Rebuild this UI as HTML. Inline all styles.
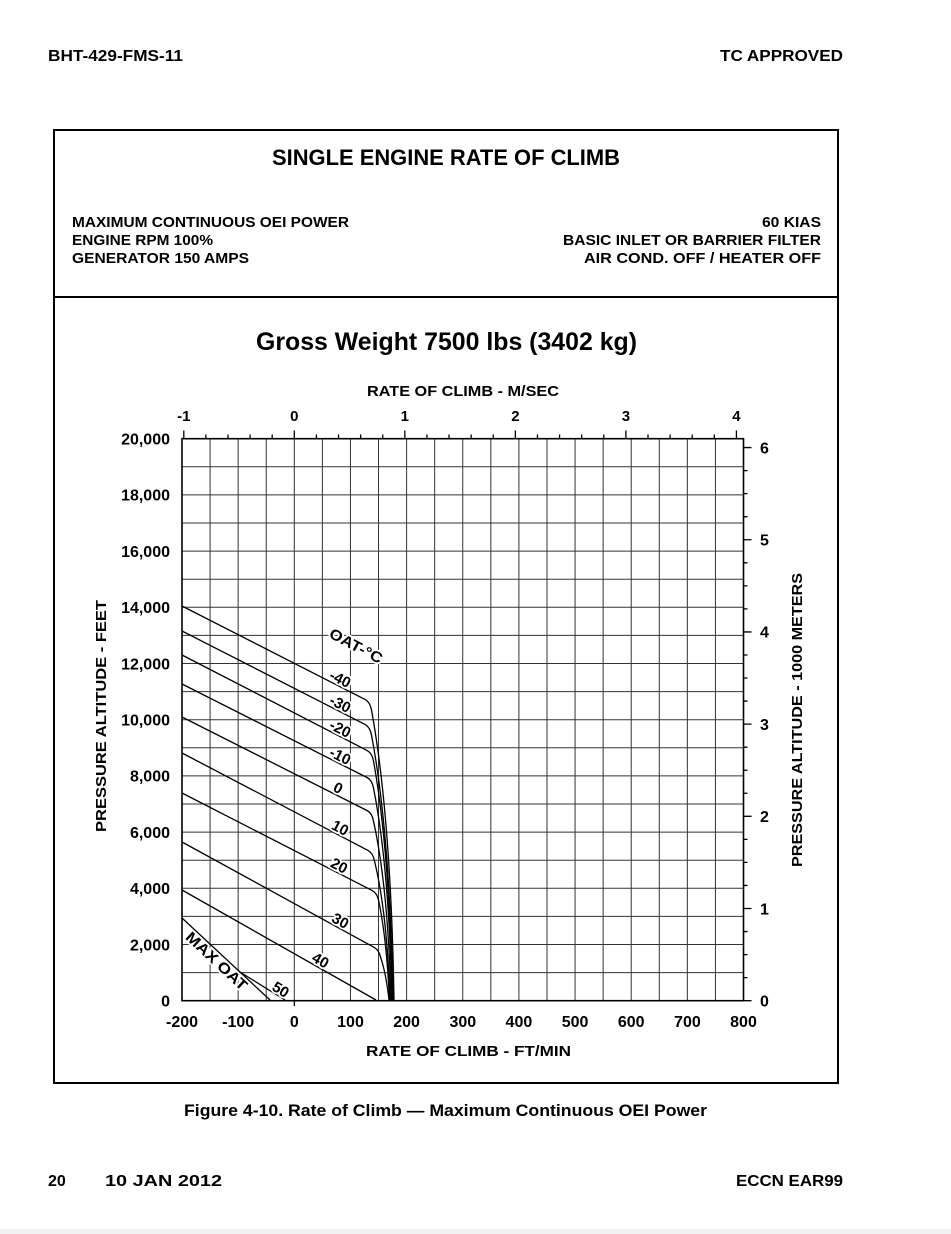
<!DOCTYPE html>
<html>
<head>
<meta charset="utf-8">
<style>
html,body{margin:0;padding:0;background:#fff;}
svg{display:block;}
text{font-family:"Liberation Sans",Arial,sans-serif;font-weight:bold;fill:#000;}
.lbl{font-size:15px;stroke:#fff;stroke-width:3.5px;paint-order:stroke;stroke-linejoin:round;}
</style>
</head>
<body>
<svg width="951" height="1234" viewBox="0 0 951 1234" xmlns="http://www.w3.org/2000/svg">
<rect x="0" y="0" width="951" height="1234" fill="#fff"/>
<rect x="0" y="1229" width="951" height="5" fill="#f1f1f1"/>

<!-- page header -->
<text x="48" y="61" font-size="16" textLength="135" lengthAdjust="spacingAndGlyphs">BHT-429-FMS-11</text>
<text x="843" y="61" font-size="16" text-anchor="end" textLength="123" lengthAdjust="spacingAndGlyphs">TC APPROVED</text>

<!-- outer box -->
<rect x="54" y="130" width="784" height="953" fill="none" stroke="#000" stroke-width="2"/>
<line x1="54" y1="297" x2="838" y2="297" stroke="#000" stroke-width="2"/>

<text x="272" y="165" font-size="22" textLength="348" lengthAdjust="spacingAndGlyphs">SINGLE ENGINE RATE OF CLIMB</text>

<text x="72" y="227" font-size="15" textLength="277" lengthAdjust="spacingAndGlyphs">MAXIMUM CONTINUOUS OEI POWER</text>
<text x="72" y="245" font-size="15" textLength="141" lengthAdjust="spacingAndGlyphs">ENGINE RPM 100%</text>
<text x="72" y="263" font-size="15" textLength="177" lengthAdjust="spacingAndGlyphs">GENERATOR 150 AMPS</text>

<text x="821" y="227" font-size="15" text-anchor="end" textLength="59" lengthAdjust="spacingAndGlyphs">60 KIAS</text>
<text x="821" y="245" font-size="15" text-anchor="end" textLength="258" lengthAdjust="spacingAndGlyphs">BASIC INLET OR BARRIER FILTER</text>
<text x="821" y="263" font-size="15" text-anchor="end" textLength="237" lengthAdjust="spacingAndGlyphs">AIR COND. OFF  /  HEATER OFF</text>

<text x="256" y="350" font-size="25" textLength="381" lengthAdjust="spacingAndGlyphs">Gross Weight 7500 lbs (3402 kg)</text>

<text x="367" y="396" font-size="15" textLength="192" lengthAdjust="spacingAndGlyphs">RATE OF CLIMB  -  M/SEC</text>

<!-- top tick labels (m/sec) -->
<g font-size="15" text-anchor="middle">
<text x="183.8" y="421">-1</text>
<text x="294.3" y="421">0</text>
<text x="404.8" y="421">1</text>
<text x="515.4" y="421">2</text>
<text x="625.9" y="421">3</text>
<text x="736.4" y="421">4</text>
</g>

<!-- grid -->
<path fill="none" stroke="#333" stroke-width="1" d="
M210.08 438.7V1000.7 M238.15 438.7V1000.7 M266.23 438.7V1000.7 M294.3 438.7V1000.7 M322.38 438.7V1000.7
M350.45 438.7V1000.7 M378.53 438.7V1000.7 M406.6 438.7V1000.7 M434.68 438.7V1000.7 M462.75 438.7V1000.7
M490.83 438.7V1000.7 M518.9 438.7V1000.7 M546.98 438.7V1000.7 M575.05 438.7V1000.7 M603.13 438.7V1000.7
M631.2 438.7V1000.7 M659.28 438.7V1000.7 M687.35 438.7V1000.7 M715.43 438.7V1000.7
M182 972.6H743.5 M182 944.5H743.5 M182 916.4H743.5 M182 888.3H743.5 M182 860.2H743.5
M182 832.1H743.5 M182 804H743.5 M182 775.9H743.5 M182 747.8H743.5 M182 719.7H743.5
M182 691.6H743.5 M182 663.5H743.5 M182 635.4H743.5 M182 607.3H743.5 M182 579.2H743.5
M182 551.1H743.5 M182 523H743.5 M182 494.9H743.5 M182 466.8H743.5"/>

<!-- plot border -->
<rect x="182" y="438.7" width="561.5" height="562" fill="none" stroke="#000" stroke-width="1.6"/>

<!-- top ticks -->
<path fill="none" stroke="#000" stroke-width="1.3" d="
M183.8 438.7V430.5 M294.3 438.7V430.5 M404.83 438.7V430.5 M515.36 438.7V430.5 M625.89 438.7V430.5 M736.42 438.7V430.5
M205.88 438.7V434.5 M227.98 438.7V434.5 M250.09 438.7V434.5 M272.19 438.7V434.5
M316.41 438.7V434.5 M338.51 438.7V434.5 M360.62 438.7V434.5 M382.72 438.7V434.5
M426.94 438.7V434.5 M449.04 438.7V434.5 M471.15 438.7V434.5 M493.25 438.7V434.5
M537.47 438.7V434.5 M559.57 438.7V434.5 M581.68 438.7V434.5 M603.78 438.7V434.5
M648 438.7V434.5 M670.1 438.7V434.5 M692.21 438.7V434.5 M714.31 438.7V434.5"/>

<!-- right ticks -->
<path fill="none" stroke="#000" stroke-width="1.3" d="
M743.5 1000.7H751.5 M743.5 908.51H751.5 M743.5 816.32H751.5 M743.5 724.12H751.5 M743.5 631.93H751.5 M743.5 539.74H751.5 M743.5 447.55H751.5
M743.5 977.65H747.5 M743.5 954.6H747.5 M743.5 931.56H747.5
M743.5 885.46H747.5 M743.5 862.41H747.5 M743.5 839.36H747.5
M743.5 793.27H747.5 M743.5 770.22H747.5 M743.5 747.17H747.5
M743.5 701.08H747.5 M743.5 678.03H747.5 M743.5 654.98H747.5
M743.5 608.88H747.5 M743.5 585.84H747.5 M743.5 562.79H747.5
M743.5 516.69H747.5 M743.5 493.64H747.5 M743.5 470.6H747.5
M294.3 1000.7V1006"/>

<!-- left tick labels -->
<g font-size="16" text-anchor="end">
<text x="170" y="444.5">20,000</text>
<text x="170" y="500.7">18,000</text>
<text x="170" y="556.9">16,000</text>
<text x="170" y="613.1">14,000</text>
<text x="170" y="669.3">12,000</text>
<text x="170" y="725.5">10,000</text>
<text x="170" y="781.7">8,000</text>
<text x="170" y="837.9">6,000</text>
<text x="170" y="894.1">4,000</text>
<text x="170" y="950.3">2,000</text>
<text x="170" y="1006.5">0</text>
</g>

<!-- right tick labels -->
<g font-size="16">
<text x="760" y="1006.5">0</text>
<text x="760" y="914.3">1</text>
<text x="760" y="822.1">2</text>
<text x="760" y="729.9">3</text>
<text x="760" y="637.7">4</text>
<text x="760" y="545.5">5</text>
<text x="760" y="453.3">6</text>
</g>

<!-- bottom tick labels -->
<g font-size="16" text-anchor="middle">
<text x="182" y="1027">-200</text>
<text x="238.2" y="1027">-100</text>
<text x="294.3" y="1027">0</text>
<text x="350.5" y="1027">100</text>
<text x="406.6" y="1027">200</text>
<text x="462.8" y="1027">300</text>
<text x="518.9" y="1027">400</text>
<text x="575.1" y="1027">500</text>
<text x="631.2" y="1027">600</text>
<text x="687.4" y="1027">700</text>
<text x="743.5" y="1027">800</text>
</g>

<text x="366" y="1056" font-size="15" textLength="205" lengthAdjust="spacingAndGlyphs">RATE OF CLIMB  -  FT/MIN</text>

<!-- axis titles -->
<text transform="translate(106,716) rotate(-90)" font-size="15" text-anchor="middle" textLength="232" lengthAdjust="spacingAndGlyphs">PRESSURE ALTITUDE  -  FEET</text>
<text transform="translate(802,720) rotate(-90)" font-size="15" text-anchor="middle" textLength="294" lengthAdjust="spacingAndGlyphs">PRESSURE ALTITUDE  -  1000 METERS</text>

<!-- curves -->
<g fill="none" stroke="#000" stroke-width="1.3" stroke-linejoin="round">
<path d="M182 606 L365 699.4 Q370 702 371.5 710 Q391 817.3 394 1000"/>
<path d="M182 631 L365 724.4 Q370 727 371.5 735 Q390 833 393 1000"/>
<path d="M182 655 L367 750.4 Q372 753 373.5 761 Q389.5 849.4 392.5 1000"/>
<path d="M182 684 L367 777.5 Q372 780 373.5 788 Q389 866.4 392 1000"/>
<path d="M182 717 L367 810.5 Q372 813 373.5 821 Q388 887.2 391 1000"/>
<path d="M182 753 L368 850.4 Q373 853 374.5 861 Q387 912.4 390 1000"/>
<path d="M182 793 L372 890.4 Q377 893 378.5 900 Q386.5 937 389.5 1000"/>
<path d="M182 842 L374 947.3 Q379 950 380.5 957 Q386 973 389 1000"/>
<path d="M182 890 L376 1000"/>
<path d="M182 918 L270 1000"/>
<path d="M240 972 L285 1000"/>
</g>

<!-- curve labels -->
<text class="lbl" transform="translate(356,646) rotate(28)" font-size="15" text-anchor="middle" y="5" textLength="58" lengthAdjust="spacingAndGlyphs">OAT-°C</text>
<text class="lbl" transform="translate(337,685.2) rotate(27)" text-anchor="middle" y="-2">-40</text>
<text class="lbl" transform="translate(337,710.2) rotate(27)" text-anchor="middle" y="-2">-30</text>
<text class="lbl" transform="translate(337,735) rotate(27.3)" text-anchor="middle" y="-2">-20</text>
<text class="lbl" transform="translate(337,762.3) rotate(26.8)" text-anchor="middle" y="-2">-10</text>
<text class="lbl" transform="translate(335,794.3) rotate(26.8)" text-anchor="middle" y="-2">0</text>
<text class="lbl" transform="translate(337,834.2) rotate(27.6)" text-anchor="middle" y="-2">10</text>
<text class="lbl" transform="translate(336,872) rotate(27.2)" text-anchor="middle" y="-2">20</text>
<text class="lbl" transform="translate(337,927) rotate(28.7)" text-anchor="middle" y="-2">30</text>
<text class="lbl" transform="translate(317,966.5) rotate(29.6)" text-anchor="middle" y="-2">40</text>
<text class="lbl" transform="translate(277,995.6) rotate(31.8)" text-anchor="middle" y="-2">50</text>
<text class="lbl" transform="translate(222,955.3) rotate(43)" text-anchor="middle" y="13" textLength="78" lengthAdjust="spacingAndGlyphs">MAX OAT</text>

<!-- caption -->
<text x="184" y="1116" font-size="17" textLength="523" lengthAdjust="spacingAndGlyphs">Figure 4-10.   Rate of Climb — Maximum Continuous OEI Power</text>

<!-- footer -->
<text x="48" y="1186" font-size="16">20</text>
<text x="105" y="1186" font-size="16" textLength="117" lengthAdjust="spacingAndGlyphs">10 JAN 2012</text>
<text x="843" y="1186" font-size="16" text-anchor="end" textLength="107" lengthAdjust="spacingAndGlyphs">ECCN EAR99</text>
</svg>
</body>
</html>
